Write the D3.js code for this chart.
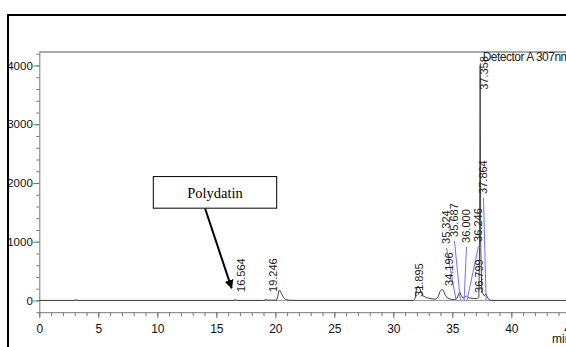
<!DOCTYPE html>
<html>
<head>
<meta charset="utf-8">
<script src="https://cdn.jsdelivr.net/npm/d3@7"></script>
<style>
  body { margin: 0; background: #fff; }
  svg { display: block; font-family: "Liberation Sans", Arial, sans-serif; }
</style>
</head>
<body>
<div id="chart"></div>
<script>
// chromatogram trace (minutes, signal)
var traceTimes  = [0, 2.9, 3.1, 3.4, 5, 16.4, 16.6, 16.8, 19.0, 19.2, 19.4, 20.1, 20.2, 20.3, 20.4, 20.5, 20.7, 20.9, 21.2, 22,
                   31.7, 31.85, 31.95, 32.05, 32.2, 32.35, 32.5, 32.8, 33.2, 33.6, 33.8, 33.95, 34.1, 34.25, 34.4, 34.6, 34.9,
                   35.2, 35.4, 35.55, 35.65, 35.75, 35.9, 36.05, 36.2, 36.35, 36.5, 36.8, 37.1, 37.25, 37.31, 37.36, 37.41,
                   37.5, 37.7, 37.86, 38.0, 38.2, 38.5, 46];
var traceValues = [0, 0, 8, 0, 0, 0, 10, 0, 0, 12, 5, 5, 60, 160, 170, 130, 50, 15, 3, 0,
                   0, 30, 180, 240, 230, 150, 80, 50, 30, 20, 60, 150, 190, 170, 90, 40, 20,
                   15, 40, 110, 140, 90, 40, 50, 80, 50, 40, 35, 30, 60, 900, 4000, 900,
                   150, 80, 110, 40, 5, 0, 0];

// peak labels: retention time, where the rotated label sits (min), where it starts (signal)
var peakTimes   = [16.564, 19.246, 31.895, 34.196, 35.324, 35.687, 36.000, 36.246, 36.799, 37.358, 37.864];
var labelTimes  = [17.43, 20.14, 32.52, 35.06, 34.81, 35.48, 36.50, 37.52, 37.60, 38.03, 37.94];
var labelValues = [145, 145, 60, 247, 962, 1082, 980, 997, 128, 3586, 1814];
var hasLeader   = [false, false, false, false, true, true, true, true, false, false, true];

var xTicks = [0, 5, 10, 15, 20, 25, 30, 35, 40, 45];
var yTicks = [0, 1000, 2000, 3000, 4000];

var W = 566, H = 347;

var svg = d3.select("#chart")
  .append("svg")
    .attr("width", W)
    .attr("height", H);

var x = d3.scaleLinear().domain([0, 45]).range([39.3, 570.3]);
var y = d3.scaleLinear().domain([-200, 4230]).range([312.2, 52]);

// outer black frame (left + top)
svg.append("path")
  .attr("d", "M8," + H + "V15H" + W)
  .attr("fill", "none")
  .attr("stroke", "#000")
  .attr("stroke-width", 2);

// top grey border of plot area
svg.append("line")
  .attr("x1", x(0)).attr("x2", W)
  .attr("y1", 52).attr("y2", 52)
  .attr("stroke", "#aaa")
  .attr("stroke-width", 1.8);

// zero line
svg.append("line")
  .attr("x1", x(0)).attr("x2", W)
  .attr("y1", y(0)).attr("y2", y(0))
  .attr("stroke", "#999")
  .attr("stroke-width", 1);

// Y axis: minor then major
svg.append("g")
  .attr("transform", `translate(${x(0)},0)`)
  .call(d3.axisLeft(y).tickValues(d3.range(-200, 4201, 200)).tickSize(3).tickSizeOuter(0).tickFormat(""))
  .call(g => g.selectAll("line, path").attr("stroke", "#777"));

svg.append("g")
  .attr("transform", `translate(${x(0)},0)`)
  .call(d3.axisLeft(y).tickValues(yTicks).tickSize(6).tickPadding(0.5).tickSizeOuter(0).tickFormat(d3.format("d")))
  .call(g => g.select(".domain").remove())
  .call(g => g.selectAll("line").attr("stroke", "#777"))
  .call(g => g.selectAll("text").attr("font-size", 11.5).attr("fill", "#111")
    .attr("font-family", "Liberation Sans, Arial, sans-serif"));

// X axis: minor then major
svg.append("g")
  .attr("transform", `translate(0,${y(-200)})`)
  .call(d3.axisBottom(x).tickValues(d3.range(0, 46, 1)).tickSize(4).tickSizeOuter(0).tickFormat(""))
  .call(g => g.selectAll("line, path").attr("stroke", "#777"));

svg.append("g")
  .attr("transform", `translate(0,${y(-200)})`)
  .call(d3.axisBottom(x).tickValues(xTicks).tickSize(6).tickPadding(6.5).tickSizeOuter(0))
  .call(g => g.select(".domain").remove())
  .call(g => g.selectAll("line").attr("stroke", "#777"))
  .call(g => g.selectAll("text").attr("font-size", 12).attr("fill", "#111")
    .attr("font-family", "Liberation Sans, Arial, sans-serif"));

svg.append("text")
  .attr("x", 552).attr("y", 343)
  .attr("font-size", 12).attr("fill", "#111")
  .text("min");

// trace
var trace = traceTimes.map((t, i) => [t, traceValues[i]]);
svg.append("path")
  .datum(trace)
  .attr("fill", "none")
  .attr("stroke", "#444")
  .attr("stroke-width", 1)
  .attr("d", d3.line().x(d => x(d[0])).y(d => y(d[1])));

// leader lines
peakTimes.forEach(function(t, i) {
  if (!hasLeader[i]) return;
  svg.append("line")
    .attr("x1", x(labelTimes[i]) - 3.5).attr("y1", y(labelValues[i]) + 4)
    .attr("x2", x(t)).attr("y2", y(0))
    .attr("stroke", "#6f6ff5")
    .attr("stroke-width", 1);
});

// peak labels
svg.selectAll(".plabel")
  .data(peakTimes)
  .join("text")
    .attr("class", "plabel")
    .attr("transform", (d, i) => `translate(${x(labelTimes[i])},${y(labelValues[i])}) rotate(-90)`)
    .attr("font-size", 11)
    .attr("fill", "#222")
    .text(d => d.toFixed(3));

svg.append("text")
  .attr("x", 482.7).attr("y", 60.7)
  .attr("font-size", 12).attr("fill", "#222")
  .attr("letter-spacing", -0.5)
  .text("Detector A 307nm");

// Polydatin annotation
var boxT = 14.89, boxV = 1840;
svg.append("defs").append("marker")
  .attr("id", "ah")
  .attr("viewBox", "0 0 10 10")
  .attr("refX", 9).attr("refY", 5)
  .attr("markerWidth", 4.5).attr("markerHeight", 4.5)
  .attr("orient", "auto")
  .append("path").attr("d", "M0,0L10,5L0,10z").attr("fill", "#000");

svg.append("line")
  .attr("x1", x(14.05)).attr("y1", y(1565))
  .attr("x2", x(16.3)).attr("y2", y(210))
  .attr("stroke", "#000")
  .attr("stroke-width", 2)
  .attr("marker-end", "url(#ah)");

svg.append("rect")
  .attr("x", x(boxT) - 61.7).attr("y", y(boxV) - 15.8)
  .attr("width", 123.4).attr("height", 31.6)
  .attr("fill", "#fff")
  .attr("stroke", "#000")
  .attr("stroke-width", 1);

svg.append("text")
  .attr("x", x(boxT)).attr("y", y(boxV) + 6)
  .attr("text-anchor", "middle")
  .attr("font-family", "Liberation Serif, Times New Roman, serif")
  .attr("font-size", 14.5)
  .attr("fill", "#000")
  .text("Polydatin");
</script>
</body>
</html>
